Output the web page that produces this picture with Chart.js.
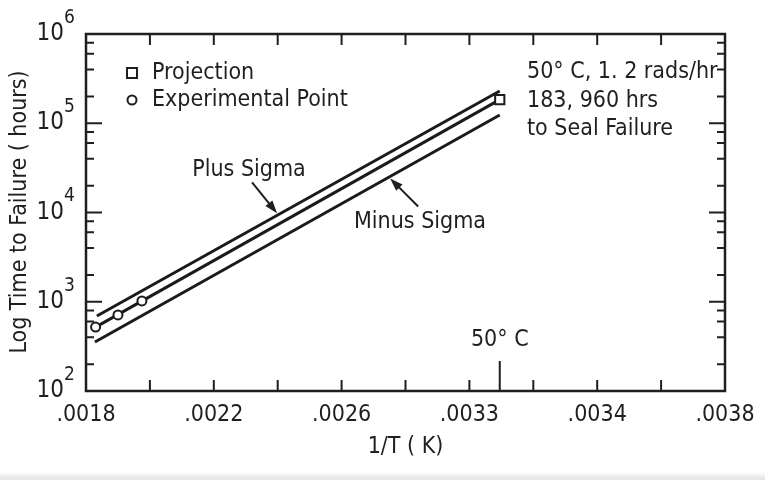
<!DOCTYPE html>
<html>
<head>
<meta charset="utf-8">
<script src="https://cdn.jsdelivr.net/npm/chart.js@4.4.1/dist/chart.umd.min.js"></script>
<style>
  html, body { margin: 0; padding: 0; background: #fff; }
  #wrap { width: 765px; height: 480px; background: linear-gradient(to bottom, #fff 0, #fff 472px, #ebebeb 477px, #e6e6e6 480px); }
  canvas { display: block; }
</style>
</head>
<body>
<div id="wrap"><canvas id="chart" width="765" height="480"></canvas></div>
<script>
// axes: 1/T in 1/K against time to failure in hours (log)
const xMin = 0.0018, xMax = 0.0038, xStep = 0.0002;
const yMin = 1e2, yMax = 1e6;
const xTickLabels = ['.0018', '.0022', '.0026', '.0033', '.0034', '.0038'];
const yDecades = [2, 3, 4, 5, 6];
const yMinorMults = [2, 4, 6, 8];

const fiftyC = 0.003095; // 1 / (273.15 + 50)

// fitted lines, end points as [1/T], [hours]
const plusSigmaX = [0.001834, fiftyC];
const plusSigmaY = [692, 230000];
const meanX = [0.001830, fiftyC];
const meanY = [520, 183960];
const minusSigmaX = [0.001828, fiftyC];
const minusSigmaY = [354, 123600];

// measured points and the projection at 50 C
const expX = [0.00183, 0.00190, 0.001975];
const expY = [521, 711, 1020];
const projX = [fiftyC];
const projY = [183960];

const INK = '#1f1f1f';
const LINE = '#1b1b1b';
const FONT = "'DejaVu Sans Condensed', 'DejaVu Sans', sans-serif";

const pts = (xs, ys) => xs.map((v, i) => ({ x: v, y: ys[i] }));

// y value of a straight (in log space) line at a given x
function lineAt(xs, ys, v) {
  const t = (v - xs[0]) / (xs[1] - xs[0]);
  const l = Math.log10(ys[0]) + t * (Math.log10(ys[1]) - Math.log10(ys[0]));
  return Math.pow(10, l);
}

function arrow(ctx, x0, y0, x1, y1) {
  const a = Math.atan2(y1 - y0, x1 - x0);
  const c = Math.cos(a), s = Math.sin(a);
  ctx.beginPath();
  ctx.moveTo(x0, y0);
  ctx.lineTo(x1 - 8 * c, y1 - 8 * s);
  ctx.stroke();
  ctx.beginPath();
  ctx.moveTo(x1, y1);
  ctx.lineTo(x1 - 13 * c + 4.5 * s, y1 - 13 * s - 4.5 * c);
  ctx.lineTo(x1 - 13 * c - 4.5 * s, y1 - 13 * s + 4.5 * c);
  ctx.closePath();
  ctx.fill();
}

const isDecade = v => {
  const l = Math.log10(v);
  return Math.abs(l - Math.round(l)) < 1e-9;
};

const framePlugin = {
  id: 'frame',
  afterDatasetsDraw(chart) {
    const { ctx, chartArea: a, scales: { x, y } } = chart;
    ctx.save();
    ctx.strokeStyle = INK;
    ctx.fillStyle = INK;

    // box
    ctx.lineWidth = 2.5;
    ctx.strokeRect(a.left, a.top, a.right - a.left, a.bottom - a.top);

    // inward tick marks on all four sides
    ctx.lineWidth = 2;
    ctx.beginPath();
    x.ticks.forEach(t => {
      const px = x.getPixelForValue(t.value);
      ctx.moveTo(px, a.bottom); ctx.lineTo(px, a.bottom - 11);
      ctx.moveTo(px, a.top); ctx.lineTo(px, a.top + 11);
    });
    y.ticks.forEach(t => {
      const py = y.getPixelForValue(t.value);
      const len = isDecade(t.value) ? 16 : 8;
      ctx.moveTo(a.left, py); ctx.lineTo(a.left + len, py);
      ctx.moveTo(a.right, py); ctx.lineTo(a.right - len, py);
    });
    // 50 C marker
    const px50 = x.getPixelForValue(fiftyC);
    ctx.moveTo(px50, a.bottom); ctx.lineTo(px50, a.bottom - 30);
    ctx.stroke();

    // y labels 10^n
    ctx.textBaseline = 'middle';
    yDecades.forEach(d => {
      const py = y.getPixelForValue(Math.pow(10, d));
      ctx.font = '24px ' + FONT;
      ctx.textAlign = 'right';
      ctx.fillText('10', 64, py);
      ctx.font = '19px ' + FONT;
      ctx.textAlign = 'left';
      ctx.fillText(String(d), 64, py - 16);
    });

    // axis titles
    ctx.font = '23px ' + FONT;
    ctx.textAlign = 'center';
    ctx.fillText('1/T ( K)', (a.left + a.right) / 2, 447);
    ctx.save();
    ctx.translate(20, 212);
    ctx.rotate(-Math.PI / 2);
    ctx.fillText('Log Time to Failure ( hours)', 0, 0);
    ctx.restore();

    // key
    ctx.lineWidth = 2;
    const kx = a.left + 46;
    ctx.strokeRect(kx - 5, a.top + 39 - 5, 10, 10);
    ctx.beginPath();
    ctx.arc(kx, a.top + 66, 4.5, 0, Math.PI * 2);
    ctx.stroke();
    ctx.font = '23px ' + FONT;
    ctx.textAlign = 'left';
    ctx.fillText('Projection', a.left + 66, a.top + 39);
    ctx.fillText('Experimental Point', a.left + 66, a.top + 66);

    // note at the projection
    ctx.fillText('50° C, 1. 2 rads/hr', a.left + 441, a.top + 38);
    ctx.fillText('183, 960 hrs', a.left + 441, a.top + 67);
    ctx.fillText('to Seal Failure', a.left + 441, a.top + 95);

    ctx.textAlign = 'center';
    ctx.fillText('50° C', px50, a.bottom - 51);

    // sigma labels with arrows to their lines
    ctx.fillText('Plus Sigma', a.left + 163, a.top + 136);
    ctx.fillText('Minus Sigma', a.left + 334, a.top + 188);
    ctx.lineWidth = 2;
    const tp = 0.002398;
    const tpx = x.getPixelForValue(tp), tpy = y.getPixelForValue(lineAt(plusSigmaX, plusSigmaY, tp)) - 2;
    arrow(ctx, tpx - 25, tpy - 31, tpx, tpy);
    const tm = 0.002752;
    const tmx = x.getPixelForValue(tm), tmy = y.getPixelForValue(lineAt(minusSigmaX, minusSigmaY, tm)) + 2;
    arrow(ctx, tmx + 28, tmy + 28, tmx, tmy);

    ctx.restore();
  }
};

const lineStyle = { showLine: true, borderColor: LINE, borderWidth: 3, pointRadius: 0, fill: false };

new Chart(document.getElementById('chart'), {
  type: 'scatter',
  data: {
    datasets: [
      { label: 'Projection', data: pts(projX, projY), pointStyle: 'rect', pointRadius: 6.5,
        borderColor: LINE, backgroundColor: '#fff', borderWidth: 2 },
      { label: 'Experimental Point', data: pts(expX, expY), pointStyle: 'circle', pointRadius: 4.5,
        borderColor: LINE, backgroundColor: '#fff', borderWidth: 2 },
      Object.assign({ label: 'Plus Sigma', data: pts(plusSigmaX, plusSigmaY) }, lineStyle),
      Object.assign({ label: 'Mean', data: pts(meanX, meanY) }, lineStyle),
      Object.assign({ label: 'Minus Sigma', data: pts(minusSigmaX, minusSigmaY) }, lineStyle)
    ]
  },
  options: {
    responsive: false,
    animation: false,
    devicePixelRatio: 1,
    layout: { padding: { top: 34, right: 40, left: 0, bottom: 0 } },
    plugins: { legend: { display: false }, tooltip: { enabled: false } },
    scales: {
      x: {
        type: 'linear', min: xMin, max: xMax,
        grid: { display: false, drawTicks: false },
        border: { display: false },
        afterBuildTicks: s => {
          const n = Math.round((xMax - xMin) / xStep);
          s.ticks = [];
          for (let i = 0; i <= n; i++) s.ticks.push({ value: Number((xMin + i * xStep).toFixed(4)) });
        },
        ticks: {
          autoSkip: false, maxRotation: 0, minRotation: 0, padding: 10,
          color: INK, font: { family: FONT, size: 23 },
          callback: (v, i) => (i % 2 === 0 ? xTickLabels[i / 2] : '')
        },
        afterFit: s => { s.height = 89; }
      },
      y: {
        type: 'logarithmic', min: yMin, max: yMax,
        grid: { display: false, drawTicks: false },
        border: { display: false },
        afterBuildTicks: s => {
          const t = [];
          yDecades.forEach(d => {
            t.push({ value: Math.pow(10, d) });
            if (d < yDecades[yDecades.length - 1]) yMinorMults.forEach(m => t.push({ value: m * Math.pow(10, d) }));
          });
          s.ticks = t;
        },
        ticks: { display: false },
        afterFit: s => { s.width = 86; }
      }
    }
  },
  plugins: [framePlugin]
});
</script>
</body>
</html>
